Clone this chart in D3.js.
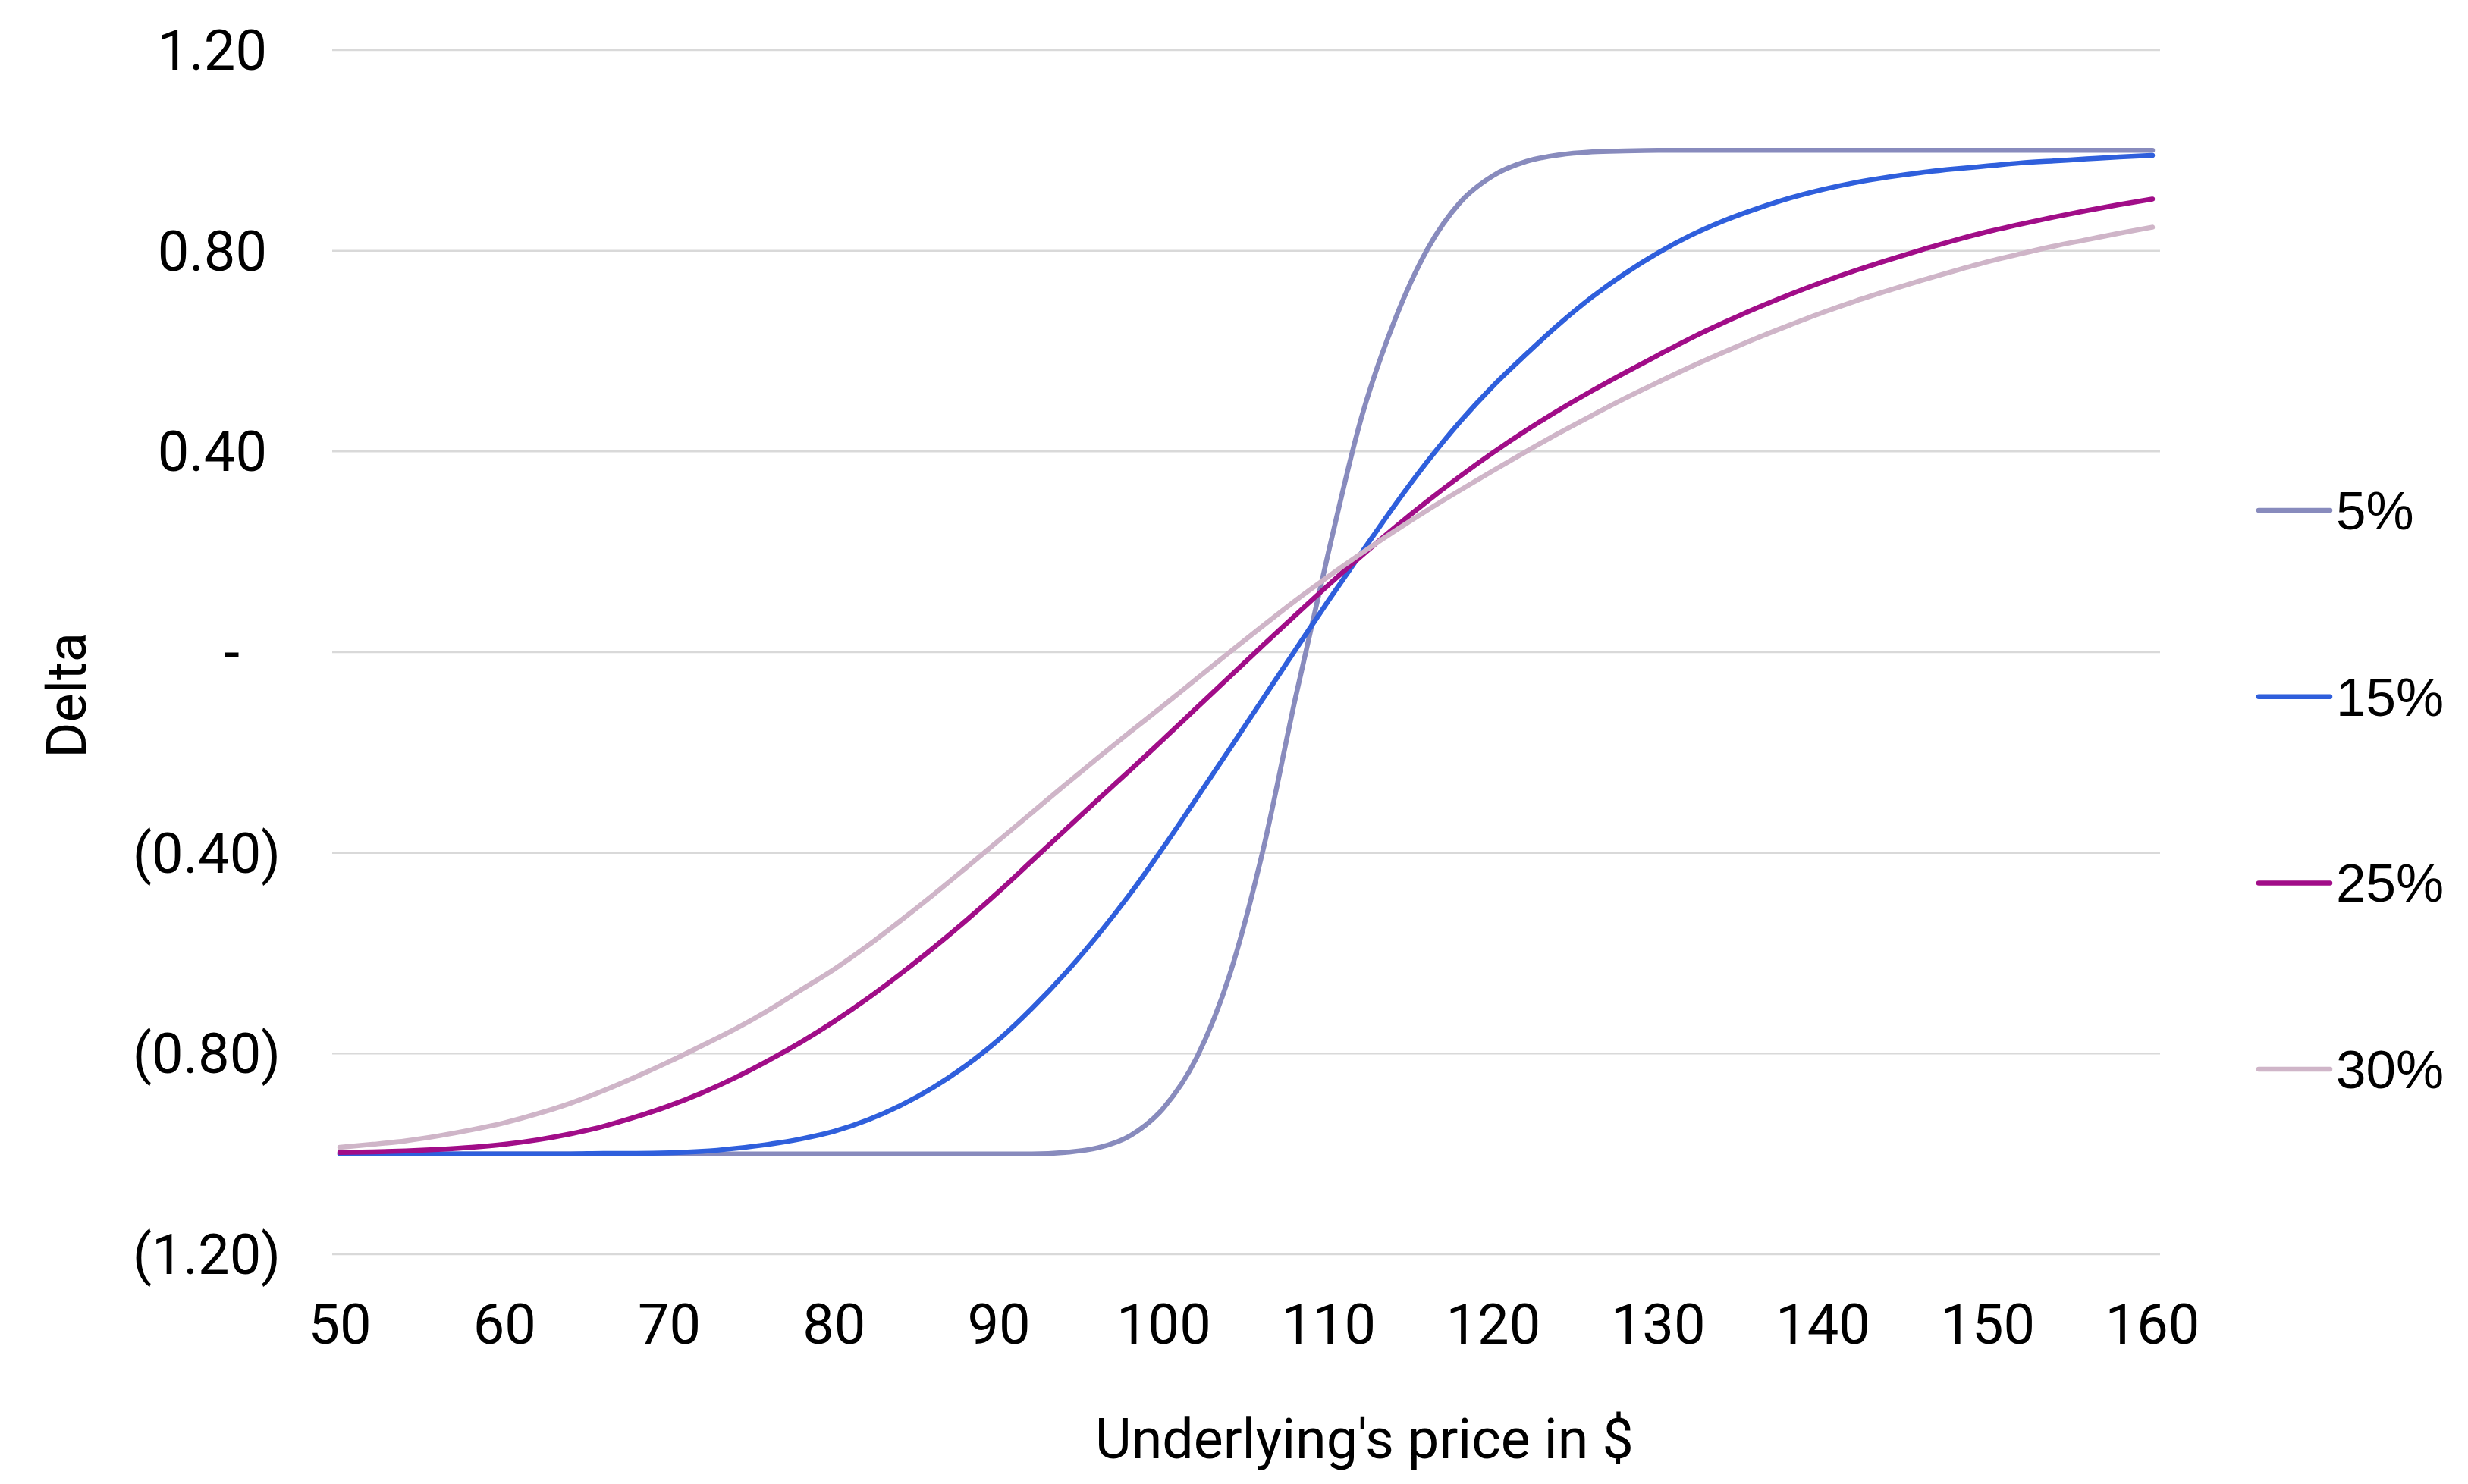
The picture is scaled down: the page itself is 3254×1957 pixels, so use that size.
<!DOCTYPE html>
<html>
<head>
<meta charset="utf-8">
<script src="https://cdn.jsdelivr.net/npm/d3@7"></script>
<style>
  body { margin: 0; background: #fff; }
  text { fill: #000; }
</style>
</head>
<body>
<div id="chartContainer"></div>
<script>
// underlying price, step 2
var prices = d3.range(50, 161, 2);

var seriesNames = ["5%", "15%", "25%", "30%"];
var seriesColors = ["#888bbd", "#2f5fdc", "#a10d88", "#cfb5c8"];

var delta5 = [
  -1.00, -1.00, -1.00, -1.00, -1.00, -1.00, -1.00, -1.00, -1.00, -1.00,
  -1.00, -1.00, -1.00, -1.00, -1.00, -1.00, -1.00, -1.00, -1.00, -1.00,
  -1.00, -1.00, -0.997, -0.988, -0.963, -0.908, -0.808, -0.643, -0.398, -0.09,
  0.20, 0.468, 0.66, 0.803, 0.897, 0.950, 0.978, 0.991, 0.997, 0.999,
  1.00, 1.00, 1.00, 1.00, 1.00, 1.00, 1.00, 1.00, 1.00, 1.00,
  1.00, 1.00, 1.00, 1.00, 1.00, 1.00
];
var delta15 = [
  -1.00, -1.00, -1.00, -1.00, -1.00, -1.00, -1.00, -1.00, -0.999, -0.999,
  -0.998, -0.995, -0.989, -0.981, -0.970, -0.955, -0.933, -0.904, -0.868, -0.824,
  -0.772, -0.710, -0.641, -0.564, -0.480, -0.388, -0.291, -0.193, -0.094, 0.005,
  0.103, 0.198, 0.292, 0.380, 0.460, 0.531, 0.594, 0.654, 0.708, 0.755,
  0.796, 0.831, 0.860, 0.884, 0.905, 0.922, 0.936, 0.947, 0.956, 0.963,
  0.969, 0.975, 0.979, 0.983, 0.987, 0.990
];
var delta25 = [
  -0.997, -0.996, -0.994, -0.991, -0.987, -0.981, -0.972, -0.960, -0.945, -0.926,
  -0.904, -0.878, -0.848, -0.814, -0.777, -0.736, -0.691, -0.642, -0.590, -0.535,
  -0.477, -0.416, -0.355, -0.294, -0.234, -0.173, -0.111, -0.049, 0.013, 0.074,
  0.134, 0.192, 0.248, 0.301, 0.351, 0.398, 0.442, 0.483, 0.521, 0.557,
  0.592, 0.626, 0.657, 0.686, 0.713, 0.738, 0.761, 0.782, 0.802, 0.821,
  0.838, 0.853, 0.867, 0.880, 0.892, 0.903
];
var delta30 = [
  -0.987, -0.981, -0.974, -0.964, -0.952, -0.938, -0.920, -0.899, -0.874, -0.846,
  -0.816, -0.784, -0.751, -0.714, -0.673, -0.632, -0.586, -0.536, -0.484, -0.430,
  -0.375, -0.320, -0.265, -0.211, -0.158, -0.106, -0.053, 0.000, 0.052, 0.103,
  0.151, 0.197, 0.241, 0.283, 0.323, 0.362, 0.400, 0.437, 0.472, 0.506,
  0.538, 0.569, 0.598, 0.626, 0.652, 0.677, 0.700, 0.721, 0.741, 0.760,
  0.778, 0.794, 0.809, 0.822, 0.835, 0.847
];

var xTicks = d3.range(50, 161, 10);
var yTicks = [-1.2, -0.8, -0.4, 0, 0.4, 0.8, 1.2];

var xTitle = "Underlying's price in $";
var yTitle = "Delta";

function lineChart() {
  var width = 3254, height = 1957;
  var svg = d3.select("#chartContainer").append("svg")
      .attr("width", width)
      .attr("height", height);

  var x = d3.scaleLinear().domain([50, 160]).range([448, 2838]);
  var y = d3.scaleLinear().domain([-1.2, 1.2]).range([1654, 66]);

  var fmt = function (d) {
    if (d === 0) return "-";
    var s = Math.abs(d).toFixed(2);
    return d < 0 ? "(" + s + ")" : s;
  };

  // gridlines
  svg.append("g").selectAll("line")
      .data(yTicks)
      .enter().append("line")
      .attr("x1", 438)
      .attr("x2", 2848)
      .attr("y1", function (d) { return y(d); })
      .attr("y2", function (d) { return y(d); })
      .style("stroke", "#d9d9d9")
      .style("stroke-width", 2.5);

  // y tick labels (accounting style)
  svg.append("g").selectAll("text")
      .data(yTicks)
      .enter().append("text")
      .attr("x", function (d) { return d < 0 ? 370 : (d > 0 ? 352 : 316); })
      .attr("y", function (d) { return y(d) + 26; })
      .attr("text-anchor", "end")
      .style("font-family", "Roboto, sans-serif")
      .style("font-size", "74px")
      .text(fmt);

  // x tick labels
  svg.append("g").selectAll("text")
      .data(xTicks)
      .enter().append("text")
      .attr("x", function (d) { return x(d); })
      .attr("y", 1772)
      .attr("text-anchor", "middle")
      .style("font-family", "Roboto, sans-serif")
      .style("font-size", "74px")
      .text(function (d) { return d; });

  // axis titles
  svg.append("text")
      .attr("x", 1444)
      .attr("y", 1923)
      .style("font-family", "Roboto, sans-serif")
      .style("font-size", "73.5px")
      .text(xTitle);

  svg.append("text")
      .attr("transform", "translate(113,917) rotate(-90)")
      .attr("text-anchor", "middle")
      .style("font-family", "Roboto, sans-serif")
      .style("font-size", "72px")
      .text(yTitle);

  var allSeries = [delta5, delta15, delta25, delta30];

  var line = d3.line()
      .x(function (d, i) { return x(prices[i]); })
      .y(function (d) { return y(d); })
      .curve(d3.curveMonotoneX);

  svg.append("g").selectAll("path")
      .data(allSeries)
      .enter().append("path")
      .attr("d", line)
      .style("fill", "none")
      .style("stroke", function (d, i) { return seriesColors[i]; })
      .style("stroke-width", 6.5)
      .style("stroke-linejoin", "round")
      .style("stroke-linecap", "round");

  // legend
  var legend = svg.append("g").selectAll("g")
      .data(seriesNames)
      .enter().append("g")
      .attr("transform", function (d, i) { return "translate(0," + (673 + i * 245.7) + ")"; });

  legend.append("line")
      .attr("x1", 2978)
      .attr("x2", 3072)
      .style("stroke", function (d, i) { return seriesColors[i]; })
      .style("stroke-width", 6.5)
      .style("stroke-linecap", "round");

  legend.append("text")
      .attr("x", 3080)
      .attr("y", 25)
      .style("font-family", "'Liberation Sans', Arial, sans-serif")
      .style("font-size", "71px")
      .text(function (d) { return d; });
}

lineChart();
</script>
</body>
</html>
